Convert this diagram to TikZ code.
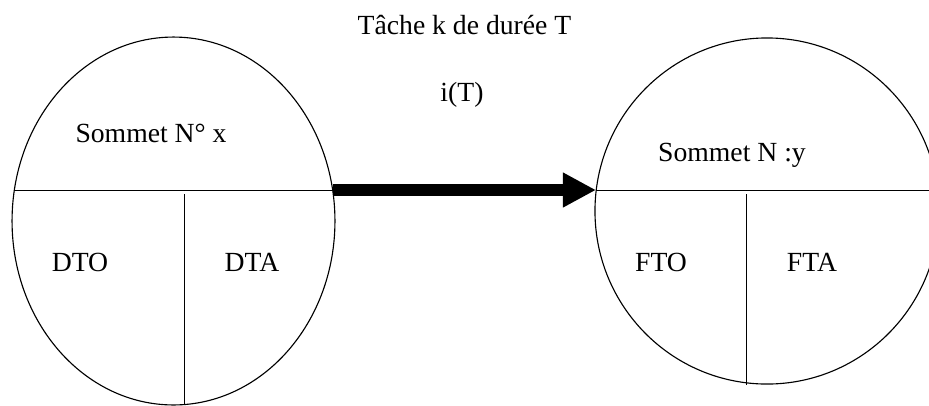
\documentclass[tikz,border=0pt]{standalone}
\usepackage{fontspec}
\setmainfont{Liberation Serif}
\usetikzlibrary{arrows.meta,shapes.geometric}
\tikzset{
  sommet/.style={draw=black, ellipse, line width=0.5pt, inner sep=0pt},
  fleche/.style={line width=4.9pt, -{Triangle[length=14.7pt,width=14.5pt]}},
  texte/.style={inner sep=0pt, font=\fontsize{12.3}{15}\selectfont}
}
\begin{document}
\begin{tikzpicture}[x=0.4444pt, y=-0.4444pt]
        \useasboundingbox (0,0) rectangle (929,405);
        \clip (0,0) rectangle (929,405);
        % sommets
        \node [sommet, minimum width=143.5pt, minimum height=163.5pt] (sx) at (173.5,221) {};
        \node [sommet, minimum width=152.9pt, minimum height=153.8pt] (sy) at (767,211) {};
        % separations
        \coordinate (xw) at (14,190);
        \coordinate (xe) at (333,190);
        \coordinate (yw) at (596,190);
        \coordinate (ye) at (938,190);
        \draw [black] (xw) -- (xe);
        \draw [black] (184,194) -- (184,405);
        \draw [black] (yw) -- (ye);
        \draw [black] (746,194) -- (746,385);
        % textes
        \node [texte] (nx) at (151,133) {Sommet N° x};
        \node [texte] (dto) at (80,262) {DTO};
        \node [texte] (dta) at (252,262) {DTA};
        \node [texte] (ny) at (732,155) {Sommet N :y};
        \node [texte] (fto) at (661,262) {FTO};
        \node [texte] (fta) at (812,262) {FTA};
        \node [texte] (tache) at (464.5,25) {Tâche k de durée T};
        \node [texte] (iT) at (462,95) {i(T)};
        % tache
        \draw [fleche] (xe) -- (yw);
    \end{tikzpicture}
\end{document}
